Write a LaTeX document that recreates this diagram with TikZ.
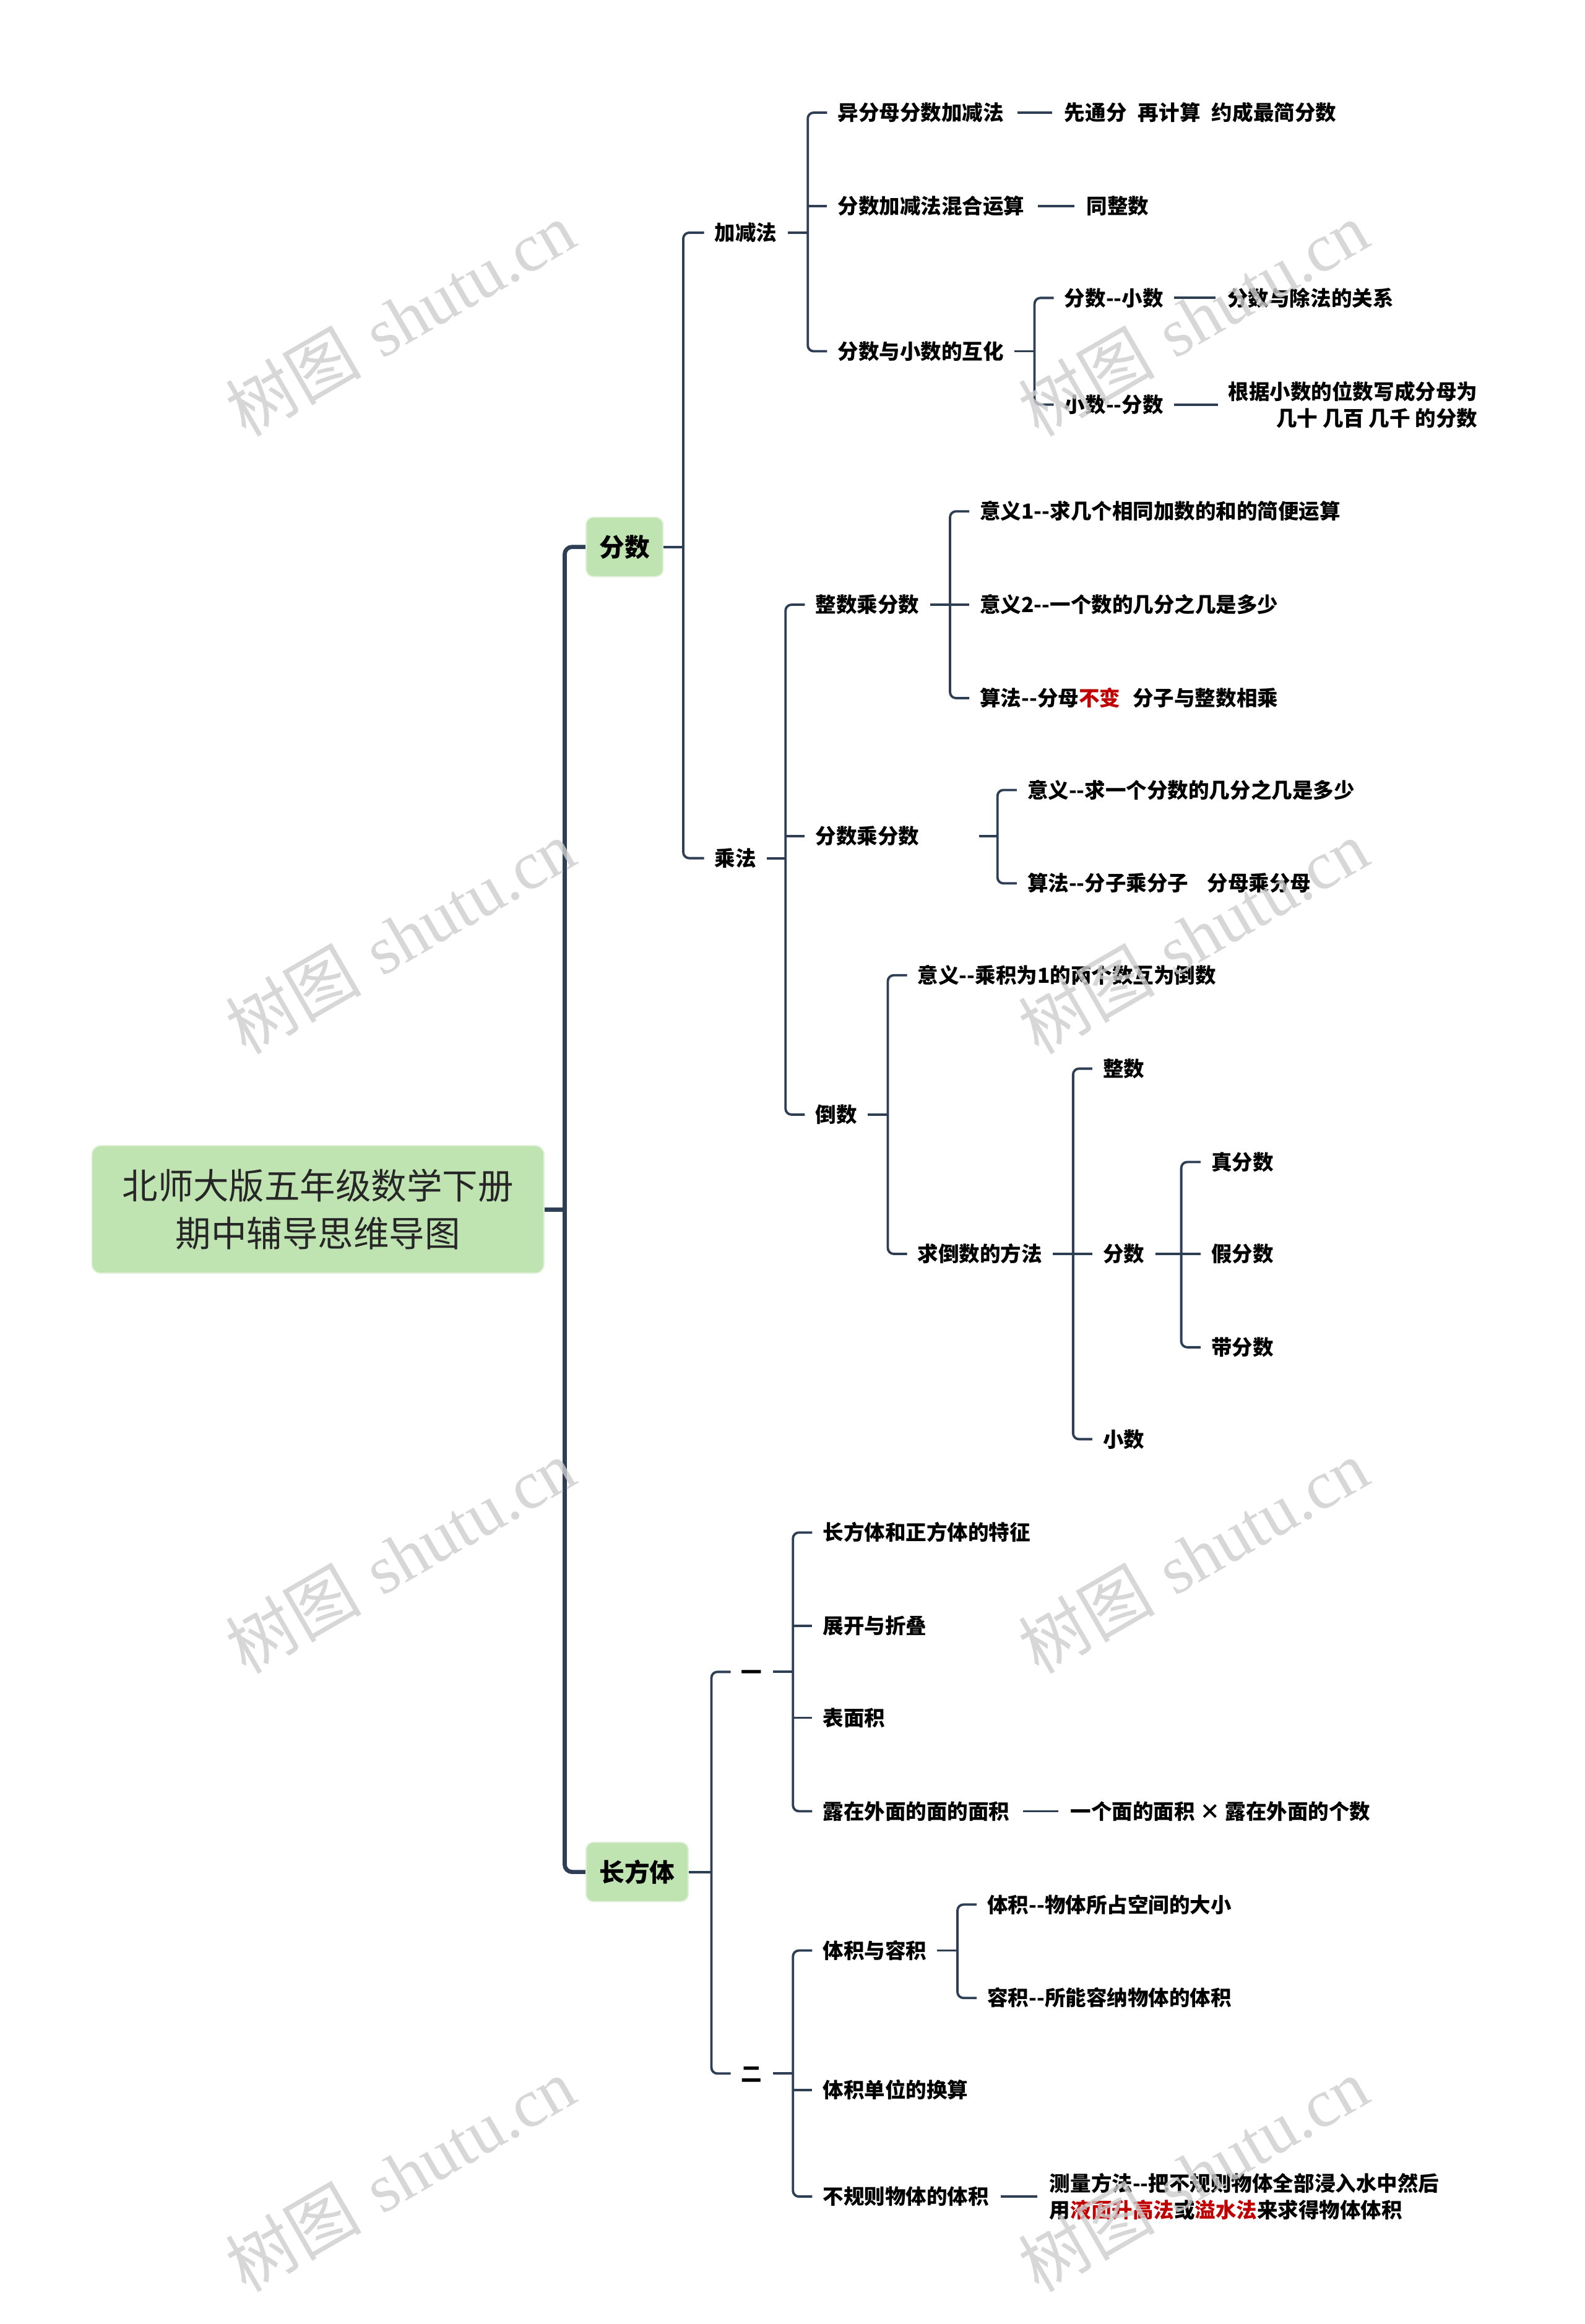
\documentclass[tikz,border=0pt]{standalone}
\usepackage{fontspec}
\newfontfamily\cjkfont{Noto Sans CJK SC}
\newfontfamily\wmlat{Liberation Serif}
\definecolor{lc}{RGB}{46,62,84}
\definecolor{boxg}{RGB}{192,227,178}
\definecolor{boxb}{RGB}{224,241,216}
\definecolor{hred}{RGB}{192,0,0}
\definecolor{wm}{RGB}{205,205,205}
\begin{document}
\begin{tikzpicture}[x=1pt,y=-1pt,
  rootbox/.style={rounded corners=6pt, fill=boxg, draw=boxb, line width=0.8pt,
    minimum width=305pt, minimum height=86pt, align=center, inner sep=0pt,
    font=\cjkfont\fontsize{24}{32}\selectfont, text=black!85},
  lonebox/.style={rounded corners=5pt, fill=boxg, draw=boxb, line width=0.8pt,
    minimum height=40pt, inner xsep=9pt, inner ysep=0pt, anchor=west,
    font=\cjkfont\bfseries\fontsize{17}{20}\selectfont, text height=15pt, text depth=2pt},
  lbl/.style={anchor=west, inner sep=0pt, font=\cjkfont\bfseries\fontsize{14}{18}\selectfont,
    text height=12.3pt, text depth=1.7pt},
  lbltwo/.style={inner sep=0pt, font=\cjkfont\bfseries\fontsize{14}{18}\selectfont},
  trunk/.style={draw=lc, line width=2.8pt, rounded corners=5pt},
  conn/.style={draw=lc, line width=1.6pt, rounded corners=4pt},
  wmk/.style={rotate=30, text=wm, inner sep=0pt, opacity=0.8,
    font=\fontsize{46}{50}\selectfont}
]
\fill[white] (0,0) rectangle (1069,1568);
\useasboundingbox (0,0) rectangle (1069,1568);

% ---------- nodes ----------
\node[rootbox] (root) at (214.5,816) {北师大版五年级数学下册\\期中辅导思维导图};
\node[lonebox] (fs) at (395,369) {分数};
\node[lonebox] (cft) at (395,1263) {长方体};

\node[lbl] (jjf) at (482,157) {加减法};
\node[lbl] (cf) at (482,579) {乘法};

\node[lbl] (a1) at (565,76) {异分母分数加减法};
\node[lbl] (a1r) at (718,76) {先通分\hspace{0.55em}再计算\hspace{0.55em}约成最简分数};
\node[lbl] (a2) at (565,139) {分数加减法混合运算};
\node[lbl] (a2r) at (733,139) {同整数};
\node[lbl] (a3) at (565,237) {分数与小数的互化};
\node[lbl] (b1) at (718,201) {分数--小数};
\node[lbl] (b1r) at (828,201) {分数与除法的关系};
\node[lbl] (b2) at (718,273) {小数--分数};
\node[lbltwo, align=right, anchor=east] (b2r) at (997,273) {根据小数的位数写成分母为\\几十 几百 几千 的分数};

\node[lbl] (c1) at (550,408) {整数乘分数};
\node[lbl] (c2) at (550,564) {分数乘分数};
\node[lbl] (c3) at (550,752) {倒数};
\node[lbl] (d1) at (661,345) {意义1--求几个相同加数的和的简便运算};
\node[lbl] (d2) at (661,408) {意义2--一个数的几分之几是多少};
\node[lbl] (d3) at (661,471) {算法--分母\textcolor{hred}{不变}\hspace{0.6em}分子与整数相乘};
\node[lbl] (e1) at (693,533) {意义--求一个分数的几分之几是多少};
\node[lbl] (e2) at (693,596) {算法--分子乘分子\hspace{0.9em}分母乘分母};
\node[lbl] (f1) at (619,658) {意义--乘积为1的两个数互为倒数};
\node[lbl] (f2) at (619,846) {求倒数的方法};
\node[lbl] (g1) at (744,721) {整数};
\node[lbl] (g2) at (744,846) {分数};
\node[lbl] (g3) at (744,971) {小数};
\node[lbl] (h1) at (817,784) {真分数};
\node[lbl] (h2) at (817,846) {假分数};
\node[lbl] (h3) at (817,909) {带分数};

\node[lbl] (i1) at (500,1128) {一};
\node[lbl] (i2) at (500,1399) {二};
\node[lbl] (j1) at (555,1034) {长方体和正方体的特征};
\node[lbl] (j2) at (555,1097) {展开与折叠};
\node[lbl] (j3) at (555,1159) {表面积};
\node[lbl] (j4) at (555,1222) {露在外面的面的面积};
\node[lbl] (j4r) at (722,1222) {一个面的面积 × 露在外面的个数};
\node[lbl] (k1) at (555,1316) {体积与容积};
\node[lbl] (k2) at (555,1410) {体积单位的换算};
\node[lbl] (k3) at (555,1482) {不规则物体的体积};
\node[lbltwo, align=left, anchor=west] (k3r) at (708,1482) {测量方法--把不规则物体全部浸入水中然后\\用\textcolor{hred}{液面升高法}或\textcolor{hred}{溢水法}来求得物体体积};
\node[lbl] (l1) at (666,1285) {体积--物体所占空间的大小};
\node[lbl] (l2) at (666,1348) {容积--所能容纳物体的体积};

% ---------- spine coordinates ----------
\coordinate (tx) at (381,816);
\coordinate (sfs) at (461,369);
\coordinate (sjjf) at (545,157);
\coordinate (sa3) at (698,237);
\coordinate (scf) at (530,579);
\coordinate (sc1) at (641,408);
\coordinate (sc2) at (673,564);
\coordinate (sc3) at (599,752);
\coordinate (sf2) at (724,846);
\coordinate (sg2) at (797,846);
\coordinate (scft) at (480,1263);
\coordinate (si1) at (535,1128);
\coordinate (si2) at (535,1399);
\coordinate (sk1) at (646,1316);

% ---------- connectors ----------
% trunk
\draw[trunk] (root.east) -- (tx);
\draw[trunk] (fs.west) -- (tx |- fs.west) -- (tx |- cft.west) -- (cft.west);

% 分数
\draw[conn] (fs.east) -- (sfs);
\draw[conn] ([xshift=-7pt]jjf.west) -- (sfs |- jjf.west) -- (sfs |- cf.west) -- ([xshift=-7pt]cf.west);

% 加减法
\draw[conn] ([xshift=7pt]jjf.east) -- (sjjf);
\draw[conn] ([xshift=-7pt]a1.west) -- (sjjf |- a1.west) -- (sjjf |- a3.west) -- ([xshift=-7pt]a3.west);
\draw[conn] (sjjf |- a2.west) -- ([xshift=-7pt]a2.west);
\draw[conn] ([xshift=9pt]a1.east) -- ([xshift=-8pt]a1r.west);
\draw[conn] ([xshift=9pt]a2.east) -- ([xshift=-8pt]a2r.west);
% 分数与小数的互化
\draw[conn] ([xshift=7pt]a3.east) -- (sa3);
\draw[conn] ([xshift=-7pt]b1.west) -- (sa3 |- b1.west) -- (sa3 |- b2.west) -- ([xshift=-7pt]b2.west);
\draw[conn] ([xshift=7pt]b1.east) -- ([xshift=-8pt]b1r.west);
\draw[conn] ([xshift=7pt]b2.east) -- ([xshift=-7pt]b2r.west);

% 乘法
\draw[conn] ([xshift=7pt]cf.east) -- (scf);
\draw[conn] ([xshift=-7pt]c1.west) -- (scf |- c1.west) -- (scf |- c3.west) -- ([xshift=-7pt]c3.west);
\draw[conn] (scf |- c2.west) -- ([xshift=-7pt]c2.west);
% 整数乘分数
\draw[conn] ([xshift=7pt]c1.east) -- (sc1);
\draw[conn] ([xshift=-7pt]d1.west) -- (sc1 |- d1.west) -- (sc1 |- d3.west) -- ([xshift=-7pt]d3.west);
\draw[conn] (sc1 |- d2.west) -- ([xshift=-7pt]d2.west);
% 分数乘分数
\draw[conn] ([xshift=40pt]c2.east) -- (sc2);
\draw[conn] ([xshift=-7pt]e1.west) -- (sc2 |- e1.west) -- (sc2 |- e2.west) -- ([xshift=-7pt]e2.west);
% 倒数
\draw[conn] ([xshift=7pt]c3.east) -- (sc3);
\draw[conn] ([xshift=-7pt]f1.west) -- (sc3 |- f1.west) -- (sc3 |- f2.west) -- ([xshift=-7pt]f2.west);
% 求倒数的方法
\draw[conn] ([xshift=7pt]f2.east) -- (sf2);
\draw[conn] ([xshift=-7pt]g1.west) -- (sf2 |- g1.west) -- (sf2 |- g3.west) -- ([xshift=-7pt]g3.west);
\draw[conn] (sf2 |- g2.west) -- ([xshift=-7pt]g2.west);
% 分数
\draw[conn] ([xshift=7pt]g2.east) -- (sg2);
\draw[conn] ([xshift=-7pt]h1.west) -- (sg2 |- h1.west) -- (sg2 |- h3.west) -- ([xshift=-7pt]h3.west);
\draw[conn] (sg2 |- h2.west) -- ([xshift=-7pt]h2.west);

% 长方体
\draw[conn] (cft.east) -- (scft);
\draw[conn] ([xshift=-7pt]i1.west) -- (scft |- i1.west) -- (scft |- i2.west) -- ([xshift=-7pt]i2.west);
% 一
\draw[conn] ([xshift=7pt]i1.east) -- (si1);
\draw[conn] ([xshift=-7pt]j1.west) -- (si1 |- j1.west) -- (si1 |- j4.west) -- ([xshift=-7pt]j4.west);
\draw[conn] (si1 |- j2.west) -- ([xshift=-7pt]j2.west);
\draw[conn] (si1 |- j3.west) -- ([xshift=-7pt]j3.west);
\draw[conn] ([xshift=9pt]j4.east) -- ([xshift=-8pt]j4r.west);
% 二
\draw[conn] ([xshift=7pt]i2.east) -- (si2);
\draw[conn] ([xshift=-7pt]k1.west) -- (si2 |- k1.west) -- (si2 |- k3.west) -- ([xshift=-7pt]k3.west);
\draw[conn] (si2 |- k2.west) -- ([xshift=-7pt]k2.west);
\draw[conn] ([xshift=8pt]k3.east) -- ([xshift=-8pt]k3r.west);
% 体积与容积
\draw[conn] ([xshift=7pt]k1.east) -- (sk1);
\draw[conn] ([xshift=-7pt]l1.west) -- (sk1 |- l1.west) -- (sk1 |- l2.west) -- ([xshift=-7pt]l2.west);

% ---------- watermarks ----------
\foreach \wx/\wy [count=\wi] in {270/215,270/632,270/1050,270/1467,805/215,805/632,805/1050,805/1467}{
  \node[wmk] (wm\wi) at (\wx,\wy) {{\cjkfont 树图} {\wmlat shutu.cn}};
}
\end{tikzpicture}
\end{document}
